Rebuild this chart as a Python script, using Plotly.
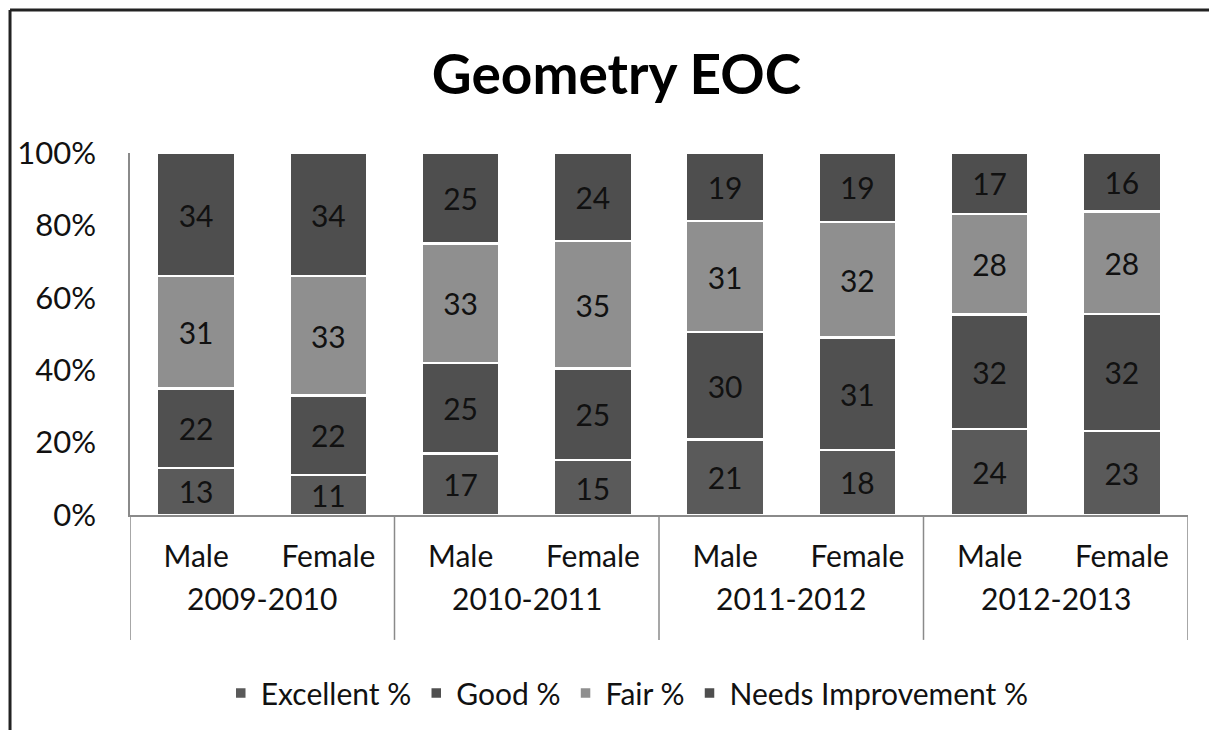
import plotly.graph_objects as go

years = ["2009-2010", "2010-2011", "2011-2012", "2012-2013"]
genders = ["Male", "Female"]
categories = [f"{y} {g}" for y in years for g in genders]
gender_labels = [g for y in years for g in genders]

excellent = [13, 11, 17, 15, 21, 18, 24, 23]
good = [22, 22, 25, 25, 30, 31, 32, 32]
fair = [31, 33, 33, 35, 31, 32, 28, 28]
needs_improvement = [34, 34, 25, 24, 19, 19, 17, 16]

y_ticks = [0, 20, 40, 60, 80, 100]
y_tick_labels = ["0%", "20%", "40%", "60%", "80%", "100%"]

series = [
    ("Excellent %", excellent, "#5a5a5a"),
    ("Good %", good, "#505050"),
    ("Fair %", fair, "#8f8f8f"),
    ("Needs Improvement %", needs_improvement, "#4e4e4e"),
]

FONT = "Lato, 'Open Sans', sans-serif"
AXIS_GRAY = "#8a8a8a"

fig = go.Figure()
for name, vals, color in series:
    fig.add_trace(go.Bar(
        x=categories, y=vals, name=name,
        marker=dict(color=color, line=dict(color="white", width=2.5)),
        text=[str(v) for v in vals], textposition="inside",
        insidetextanchor="middle", textangle=0,
        textfont=dict(family=FONT, size=30, color="#111111"),
        constraintext="none",
    ))

fig.update_layout(
    barmode="stack", barnorm="percent", bargap=0.41,
    width=1217, height=730,
    margin=dict(l=122, r=37, t=145, b=223),
    paper_bgcolor="white", plot_bgcolor="white",
    font=dict(family=FONT, size=29, color="#111111"),
    title=dict(text="<b>Geometry EOC</b>", x=0.5, xanchor="center",
               y=0.908, yanchor="middle",
               font=dict(family=FONT, size=55, color="black")),
    uniformtext=dict(minsize=8, mode="show"),
    legend=dict(orientation="h", x=0.47, xanchor="center", y=-0.492,
                yanchor="middle", font=dict(size=30), traceorder="normal",
                itemwidth=30),
    showlegend=True,
)
fig.update_yaxes(range=[0, 100], tickvals=y_ticks, ticktext=y_tick_labels,
                 showgrid=False, showline=True, linecolor=AXIS_GRAY,
                 linewidth=1.5, ticks="", ticklabelstandoff=26,
                 tickfont=dict(size=31), zeroline=False, automargin=False)
fig.update_xaxes(showline=True, linecolor=AXIS_GRAY, linewidth=1.5,
                 ticks="", tickvals=categories, ticktext=gender_labels,
                 ticklabelstandoff=14, tickfont=dict(size=30),
                 range=[-0.5, len(categories) - 0.5], automargin=False)

# year group labels and dividers
for i, yr in enumerate(years):
    fig.add_annotation(x=2 * i + 0.5, xref="x", y=-0.229, yref="paper",
                       text=yr, showarrow=False, yanchor="middle",
                       font=dict(size=30, family=FONT, color="#111111"))
for i in range(len(years) + 1):
    fig.add_shape(type="line", xref="x", yref="paper",
                  x0=2 * i - 0.5, x1=2 * i - 0.5, y0=0, y1=-0.345,
                  line=dict(color=AXIS_GRAY, width=1.5))

# outer chart frame (top and left edges)
fig.add_shape(type="line", xref="paper", yref="paper",
              x0=-0.1134, x1=1.2, y0=1.395, y1=1.395,
              line=dict(color="#222222", width=3))
fig.add_shape(type="line", xref="paper", yref="paper",
              x0=-0.1134, x1=-0.1134, y0=-1.0, y1=1.395,
              line=dict(color="#222222", width=3))

fig.write_html("out.html")
